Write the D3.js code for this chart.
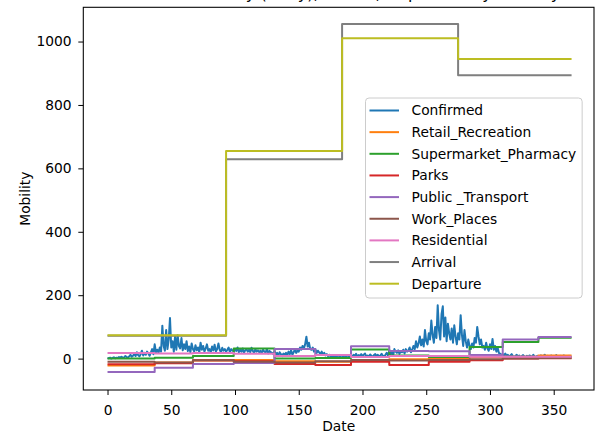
<!DOCTYPE html>
<html>
<head>
<meta charset="utf-8">
<script src="https://cdn.jsdelivr.net/npm/d3@7/dist/d3.min.js"></script>
<style>
  body { margin: 0; background: #fff; }
  svg text { font-family: "DejaVu Sans", sans-serif; fill: #000; }
</style>
</head>
<body>
<div id="canvas"></div>
<script>
// daily confirmed cases, day 0..364
const confirmed = [
  2,1,3,0,2,4,1,3,2,5,
  3,6,2,4,8,5,3,7,12,6,
  9,15,8,20,11,7,14,25,10,18,
  12,22,16,9,19,30,14,45,20,28,
  18,35,22,104,40,25,90,30,60,128,
  35,55,22,70,28,74,40,32,65,26,
  45,30,55,24,38,20,48,30,22,42,
  26,35,20,50,28,40,22,32,45,25,
  30,20,38,26,44,22,30,48,28,20,
  34,25,30,22,28,35,20,30,26,22,
  30,24,35,20,28,22,32,18,26,30,
  22,28,20,34,24,18,30,22,26,20,
  25,18,28,22,20,30,16,24,20,18,
  15,22,12,18,10,20,14,8,16,12,
  18,10,22,14,26,12,20,30,18,25,
  22,35,28,40,32,45,69,38,50,30,
  28,35,22,30,18,25,20,15,22,12,
  18,10,14,8,12,6,10,5,8,4,
  6,3,7,4,5,8,3,6,4,5,
  7,10,5,12,8,15,6,11,9,14,
  8,12,16,7,10,5,13,9,6,11,
  14,8,12,6,10,15,9,7,12,18,
  10,25,14,20,8,30,22,18,26,15,
  24,20,28,16,30,22,26,35,20,28,
  40,30,55,35,48,70,42,60,38,90,
  55,45,80,60,120,75,50,100,65,168,
  90,60,140,165,70,130,55,110,80,60,
  95,50,105,70,45,80,60,137,75,40,
  90,55,35,60,40,30,48,35,65,50,
  100,70,45,60,35,40,28,50,32,25,
  45,30,62,28,40,22,35,18,15,12,
  14,10,16,8,12,6,10,14,8,5,
  9,12,6,10,4,8,11,7,5,9,
  6,10,8,5,12,7,4,9,6,8,
  10,5,8,12,6,9,4,7,10,6,
  8,5,11,7,4,9,6,8,10,5,
  7,4,9,6,8
];
const lastDay = 364;

// monthly mobility values (first day of each period)
const monthStart = [0, 37, 67, 99, 131, 163, 191, 221, 252, 284, 310, 338];
const retail      = [-22, -12, -6, -4, -8, -10, -5, -2, 0, 4, 6, 10];
const supermarket = [0, 3, 8, 32, 0, 2, 29, 10, 5, 37, 52, 66];
const parks       = [-18, -15, -5, -8, -17, -20, -10, -20, -10, -5, 0, 1];
const transport   = [-42, -29, -17, -14, 30, 11, 39, 24, 23, 11, 60, 68];
const work        = [-10, -12, -5, -10, -12, -8, -4, -6, -4, -2, 0, 2];
const residential = [18, 16, 18, 15, 8, 11, 5, 8, 8, 6, 6, 6];

// quarterly arrivals / departures
const quarterStart = [0, 93, 184, 275];
const arrival   = [72, 629, 1055, 894];
const departure = [74, 655, 1010, 945];

const xTicks = [0, 50, 100, 150, 200, 250, 300, 350];
const yTicks = [0, 200, 400, 600, 800, 1000];

const colors = ["#1f77b4","#ff7f0e","#2ca02c","#d62728","#9467bd","#8c564b","#e377c2","#7f7f7f","#bcbd22"];

const width = 598;
const height = 435;
const margin = {top: 7.3, left: 83.3, bottom: 45, right: 4};
const iwidth = width - margin.left - margin.right;
const iheight = height - margin.top - margin.bottom;

const svg = d3.select("#canvas").append("svg")
  .attr("width", width)
  .attr("height", height);

// title sits mostly above the visible area (cut off in the original too)
svg.append("text")
  .attr("x", margin.left + iwidth / 2)
  .attr("y", -1)
  .attr("text-anchor", "middle")
  .style("font-size", "16px")
  .text("Cases vs Mobility (Daily), Arrival, Departure by Country");

const g = svg.append("g").attr("transform", `translate(${margin.left},${margin.top})`);

const x = d3.scaleLinear().domain([-19, 381.6]).range([0, iwidth]);
const y = d3.scaleLinear().domain([-99, 1108]).range([iheight, 0]);

g.append("clipPath").attr("id", "clip")
  .append("rect").attr("width", iwidth).attr("height", iheight);

const plot = g.append("g").attr("clip-path", "url(#clip)");

// helper: period values -> step points ending on the last day
function steps(starts, vals) {
  const pts = starts.map((s, i) => ({d: s, v: vals[i]}));
  pts.push({d: lastDay, v: vals[vals.length - 1]});
  return pts;
}

const series = [
  {name: "Confirmed", pts: confirmed.map((v, i) => ({d: i, v: v})), step: false},
  {name: "Retail_Recreation", pts: steps(monthStart, retail), step: true},
  {name: "Supermarket_Pharmacy", pts: steps(monthStart, supermarket), step: true},
  {name: "Parks", pts: steps(monthStart, parks), step: true},
  {name: "Public _Transport", pts: steps(monthStart, transport), step: true},
  {name: "Work_Places", pts: steps(monthStart, work), step: true},
  {name: "Residential", pts: steps(monthStart, residential), step: true},
  {name: "Arrival", pts: steps(quarterStart, arrival), step: true},
  {name: "Departure", pts: steps(quarterStart, departure), step: true}
];

const lineStraight = d3.line().x(d => x(d.d)).y(d => y(d.v));
const lineStep = d3.line().x(d => x(d.d)).y(d => y(d.v)).curve(d3.curveStepAfter);

series.forEach((s, i) => {
  plot.append("path")
    .attr("d", s.step ? lineStep(s.pts) : lineStraight(s.pts))
    .attr("fill", "none")
    .attr("stroke", colors[i])
    .attr("stroke-width", 2)
    .attr("stroke-linejoin", "round");
});

// axes
const xAxis = g.append("g")
  .attr("transform", `translate(0,${iheight})`)
  .call(d3.axisBottom(x).tickValues(xTicks).tickFormat(d3.format("d")).tickSize(5).tickPadding(10));
const yAxis = g.append("g")
  .call(d3.axisLeft(y).tickValues(yTicks).tickFormat(d3.format("d")).tickSize(5).tickPadding(6.8));

[xAxis, yAxis].forEach(a => {
  a.select(".domain").remove();
  a.selectAll("line").attr("stroke", "#000").attr("stroke-width", 1);
  a.selectAll("text").style("font-size", "13.8px").attr("fill", "#000").attr("font-family", null);
});

g.append("rect")
  .attr("width", iwidth)
  .attr("height", iheight)
  .attr("fill", "none")
  .attr("stroke", "#000")
  .attr("stroke-width", 1.07);

svg.append("text")
  .attr("x", margin.left + iwidth / 2)
  .attr("y", 431)
  .attr("text-anchor", "middle")
  .style("font-size", "13.8px")
  .text("Date");

svg.append("text")
  .attr("transform", `translate(30,${margin.top + iheight / 2}) rotate(-90)`)
  .attr("text-anchor", "middle")
  .style("font-size", "13.8px")
  .text("Mobility");

// legend
const legend = svg.append("g").attr("transform", "translate(365.5,98)");
const box = legend.append("rect")
  .attr("rx", 3.5)
  .attr("fill", "#fff")
  .attr("fill-opacity", 0.8)
  .attr("stroke", "#cccccc")
  .attr("stroke-width", 1);

let maxW = 0;
series.forEach((s, i) => {
  const cy = 12.5 + i * 21.65;
  legend.append("line")
    .attr("x1", 4).attr("x2", 33.5)
    .attr("y1", cy).attr("y2", cy)
    .attr("stroke", colors[i])
    .attr("stroke-width", 2);
  const t = legend.append("text")
    .attr("x", 46)
    .attr("y", cy)
    .attr("dy", "0.36em")
    .style("font-size", "13.8px")
    .text(s.name);
  maxW = Math.max(maxW, t.node().getComputedTextLength());
});
box.attr("width", 46 + maxW + 6).attr("height", 200);
</script>
</body>
</html>
